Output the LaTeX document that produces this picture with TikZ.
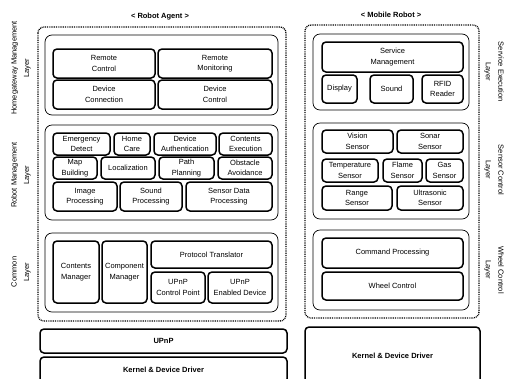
\documentclass[tikz,border=0pt]{standalone}
\usepackage{fontspec}
\setmainfont{Liberation Sans}
\begin{document}
\begin{tikzpicture}[x=1pt,y=-1pt,
  mod/.style={draw=black,line width=1.5pt,rounded corners=4pt,align=center,inner sep=0pt,
    font=\fontsize{7.5}{10.5}\selectfont},
  layerbox/.style={draw=black,line width=0.7pt,rounded corners=7pt},
  outerbox/.style={draw=black,line width=1.3pt,dash pattern=on 0.9pt off 0.9pt,rounded corners=6pt},
  base/.style={mod,font=\bfseries\fontsize{7.5}{10}\selectfont},
  title/.style={font=\bfseries\fontsize{7.5}{10}\selectfont,inner sep=0pt},
  lyr/.style={align=center,inner sep=0pt,font=\fontsize{7.5}{12.5}\selectfont}]
\useasboundingbox (0,0) rectangle (510,378);
\newcommand\modbx[6][mod]{%
  \node[#1,minimum width={#5-#3},minimum height={#6-#4}] (n#2) at ({(#3+#5)/2},{(#4+#6)/2})}
% titles
\node[title] (tRA) at (160,17) {< Robot Agent >};
\node[title] (tMR) at (391,15) {< Mobile Robot >};
% outer dotted boxes
\draw[outerbox] (38,27) rectangle (286,321);
\draw[outerbox] (305,25) rectangle (479,318);
% layer boxes left
\draw[layerbox] (45,35) rectangle (278,115);
\draw[layerbox] (45,125) rectangle (278,220);
\draw[layerbox] (45,233) rectangle (278,312);
% layer boxes right
\draw[layerbox] (313,34) rectangle (469,110);
\draw[layerbox] (313,123) rectangle (469,219);
\draw[layerbox] (313,230) rectangle (469,310);
% Homegateway
\modbx{RC}{53}{49}{155}{78} {Remote\\Control};
\modbx{RM}{158}{49}{272}{78} {Remote\\Monitoring};
\modbx{DCn}{53}{80}{155}{109} {Device\\Connection};
\modbx{DCt}{158}{80}{272}{109} {Device\\Control};
% Robot management
\modbx{ED}{53}{133}{110}{155} {Emergency\\Detect};
\modbx{HC}{114}{133}{150}{155} {Home\\Care};
\modbx{DA}{154}{133}{216}{155} {Device\\Authentication};
\modbx{CE}{219}{133}{272}{155} {Contents\\Execution};
\modbx{MB}{53}{157}{97}{179} {Map\\Building};
\modbx{Loc}{101}{157}{155}{179} {Localization};
\modbx{PP}{159}{157}{214}{179} {Path\\Planning};
\modbx{OA}{218}{157}{272}{179} {Obstacle\\Avoidance};
\modbx{IP}{53}{182}{117}{211} {Image\\Processing};
\modbx{SP}{120}{182}{182}{211} {Sound\\Processing};
\modbx{SDP}{186}{182}{272}{211} {Sensor Data\\Processing};
% Common
\modbx{CM}{53}{241}{99}{303} {Contents\\Manager};
\modbx{CoM}{102}{241}{147}{303} {Component\\Manager};
\modbx{PT}{151}{241}{272}{268} {Protocol Translator};
\modbx{UCP}{151}{272}{205}{303} {UPnP\\Control Point};
\modbx{UED}{208}{272}{272}{303} {UPnP\\Enabled Device};
% Service execution
\modbx{SM}{322}{42}{463}{72} {Service\\Management};
\modbx{Disp}{322}{75}{357}{103} {Display};
\modbx{Snd}{370}{75}{413}{103} {Sound};
\modbx{RFID}{422}{75}{463}{103} {RFID\\Reader};
% Sensor control
\modbx{VS}{322}{130}{393}{153} {Vision\\Sensor};
\modbx{SS}{397}{130}{463}{153} {Sonar\\Sensor};
\modbx{TS}{322}{159}{378}{182} {Temperature\\Sensor};
\modbx{FS}{383}{159}{422}{182} {Flame\\Sensor};
\modbx{GS}{426}{159}{463}{182} {Gas\\Sensor};
\modbx{RS}{322}{186}{392}{210} {Range\\Sensor};
\modbx{US}{397}{186}{463}{210} {Ultrasonic\\Sensor};
% Wheel control
\modbx{CP}{322}{238}{463}{268} {Command Processing};
\modbx{WC}{322}{272}{463}{300} {Wheel Control};
% base
\modbx[base]{UPnP}{40}{329}{287}{353} {UPnP};
\modbx[base]{KL}{40}{357}{287}{383} {Kernel \& Device Driver};
\modbx[base]{KR}{305}{327}{480}{385} {Kernel \& Device Driver};
% layer labels
\node[lyr,rotate=90] (lHM) at (21,68) {Homegateway Management\\Layer};
\node[lyr,rotate=90] (lRM) at (21,175) {Robot Management\\Layer};
\node[lyr,rotate=90] (lCL) at (21,272) {Common\\Layer};
\node[lyr,rotate=-90] (lSE) at (494,72) {Service Execution\\Layer};
\node[lyr,rotate=-90] (lSC) at (494,170) {Sensor Control\\Layer};
\node[lyr,rotate=-90] (lWC) at (494,270) {Wheel Control\\Layer};
\end{tikzpicture}
\end{document}
